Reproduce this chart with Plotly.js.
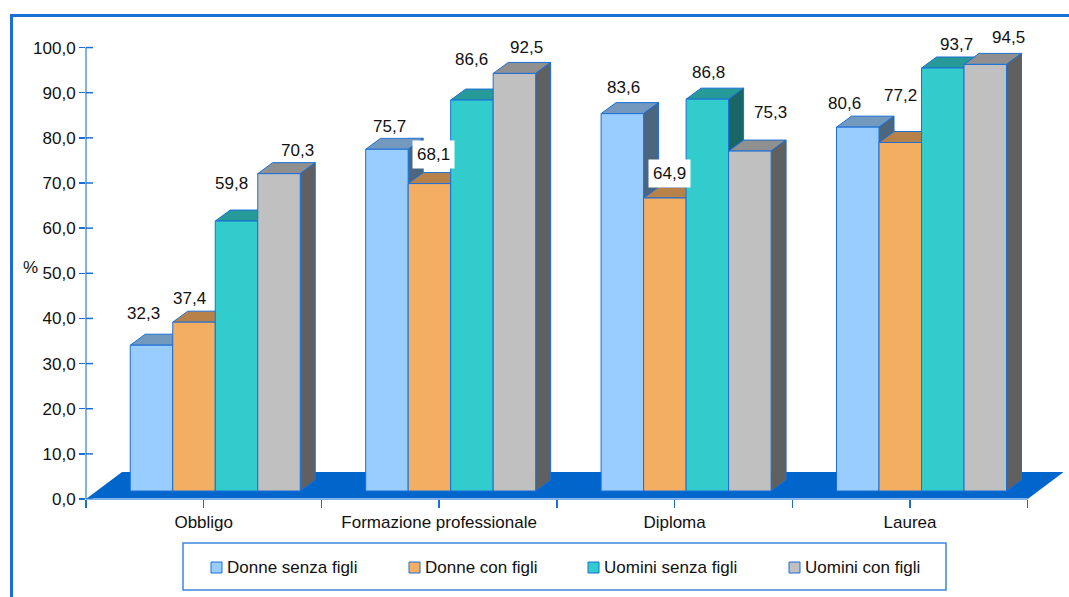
<!DOCTYPE html>
<html><head><meta charset="utf-8">
<script src="https://cdn.plot.ly/plotly-3.0.1.min.js"></script>
<style>html,body{margin:0;padding:0;background:#fff}#chart{width:1069px;height:597px}</style>
</head><body><div id="chart"></div>
<script>
// ---- data ----
const categories = ['Obbligo', 'Formazione professionale', 'Diploma', 'Laurea'];
const seriesNames = ['Donne senza figli', 'Donne con figli', 'Uomini senza figli', 'Uomini con figli'];
const donneSenzaFigli = [32.3, 75.7, 83.6, 80.6];
const donneConFigli = [37.4, 68.1, 64.9, 77.2];
const uominiSenzaFigli = [59.8, 86.6, 86.8, 93.7];
const uominiConFigli = [70.3, 92.5, 75.3, 94.5];
const yTickValues = [0, 10, 20, 30, 40, 50, 60, 70, 80, 90, 100];
const yAxisTitle = '%';

// ---- style ----
const frontColors = ['#99CCFF', '#F4AE62', '#33CCCC', '#C0C0C0'];
const topColors = ['#7399BF', '#B7824A', '#269999', '#909090'];
const sideColors = ['#4D6680', '#7A5731', '#1A6666', '#606060'];
const edge = '#1A6FD6';
const axisLine = '#7FB2EA';
const floorColor = '#0066CC';
const FONT = 'Liberation Sans, Arial, sans-serif';
// label nudges in px (x, up) per series / category
const labelNudgeX = [[-8, 3, 1, -13], [-5, 4, 5, 0], [-5, 0, 1, 14], [18, 12, 21, 23]];
const labelNudgeY = [[32, 23, 26, 24], [24, 29, 25, 47], [38, 41, 27, 24], [23, 26, 39, 27]];
// white box padding per series / category (labels overlapping bars get a wider box)
const labelPad = [[1, 1, 1, 1], [1, 4, 4, 1], [1, 1, 1, 1], [1, 1, 1, 1]];

const W = 1069, H = 597;
const M = {l: 86, r: 6, t: 25, b: 98};
const plotW = W - M.l - M.r, plotH = H - M.t - M.b;
const xRange = [-0.5, 3.65], yRange = [0, 105];
const pxX = (xRange[1] - xRange[0]) / plotW; // units per px
const pxY = (yRange[1] - yRange[0]) / plotH;

const depthX = 15 * pxX, depthY = 11 * pxY;      // bar 3D depth
const floorDX = 36 * pxX, floorDY = 27 * pxY;    // floor depth
const barBase = 8 * pxY;
const barW = 42.5 * pxX;
const firstOffset = -0.312;

const series = [donneSenzaFigli, donneConFigli, uominiSenzaFigli, uominiConFigli];
const xs = categories.map((c, i) => i);

const paperX = px => (px - M.l) / plotW;
const paperY = py => (H - M.b - py) / plotH;

const traces = series.map((vals, i) => ({
  type: 'bar', name: seriesNames[i], x: xs, y: vals,
  base: vals.map(() => barBase),
  offset: firstOffset + i * barW, width: barW,
  marker: {color: frontColors[i], line: {color: edge, width: 1}},
  hoverinfo: 'skip', showlegend: false
}));

const shapes = [];
// floor
shapes.push({type: 'path', xref: 'x', yref: 'y', layer: 'below',
  path: `M${xRange[0]},0 L${xRange[0] + floorDX},${floorDY} L${categories.length - 0.5 + floorDX},${floorDY} L${categories.length - 0.5},0 Z`,
  fillcolor: floorColor, line: {width: 0}});
// 3D faces
const annotations = [];
xs.forEach(c => {
  series.forEach((vals, i) => {
    const v = vals[c];
    const x0 = c + firstOffset + i * barW, x1 = x0 + barW;
    const yb = barBase, yt = barBase + v;
    shapes.push({type: 'path', xref: 'x', yref: 'y', layer: 'below',
      path: `M${x0},${yt} L${x0 + depthX},${yt + depthY} L${x1 + depthX},${yt + depthY} L${x1},${yt} Z`,
      fillcolor: topColors[i], line: {color: edge, width: 1}});
    shapes.push({type: 'path', xref: 'x', yref: 'y', layer: 'below',
      path: `M${x1},${yb} L${x1},${yt} L${x1 + depthX},${yt + depthY} L${x1 + depthX},${yb + depthY} Z`,
      fillcolor: sideColors[i], line: {color: edge, width: 1}});
    annotations.push({xref: 'x', yref: 'y', x: x0 + barW / 2, y: yt,
      text: v.toFixed(1).replace('.', ','), showarrow: false,
      xshift: labelNudgeX[i][c], yshift: labelNudgeY[i][c],
      xanchor: 'center', yanchor: 'middle', bgcolor: '#FFFFFF', borderpad: labelPad[i][c],
      font: {family: FONT, size: 17, color: '#111'}});
  });
});
// axis lines
shapes.push({type: 'line', xref: 'paper', yref: 'y', x0: 0, x1: 0, y0: 0, y1: yTickValues[yTickValues.length - 1],
  line: {color: axisLine, width: 2}, layer: 'above'});
shapes.push({type: 'line', xref: 'x', yref: 'paper', x0: -0.5, x1: categories.length - 0.5, y0: 0, y1: 0,
  line: {color: axisLine, width: 2}, layer: 'above'});
// inner half of y ticks
yTickValues.forEach(t => shapes.push({type: 'line', xref: 'paper', yref: 'y', x0: 0, x1: 7 / plotW, y0: t, y1: t,
  line: {color: edge, width: 1.5}, layer: 'above'}));
// outer frame
shapes.push({type: 'path', xref: 'paper', yref: 'paper', layer: 'above',
  path: `M${paperX(11.5)},${paperY(605)} L${paperX(11.5)},${paperY(15.5)} L${paperX(1080)},${paperY(15.5)}`,
  line: {color: edge, width: 3}});
// legend box
shapes.push({type: 'rect', xref: 'paper', yref: 'paper', layer: 'above',
  x0: paperX(183), x1: paperX(946), y0: paperY(590), y1: paperY(543),
  line: {color: '#3C86DC', width: 1.5}, fillcolor: 'rgba(0,0,0,0)'});
const legendX = [211, 409, 588, 789];
seriesNames.forEach((n, i) => {
  shapes.push({type: 'rect', xref: 'paper', yref: 'paper', layer: 'above',
    x0: paperX(legendX[i]), x1: paperX(legendX[i] + 11), y0: paperY(573), y1: paperY(562),
    fillcolor: frontColors[i], line: {color: edge, width: 1}});
  annotations.push({xref: 'paper', yref: 'paper', x: paperX(legendX[i] + 14), y: paperY(567.5),
    xanchor: 'left', yanchor: 'middle', showarrow: false, text: n,
    font: {family: FONT, size: 17, color: '#111'}});
});
// "%" label
annotations.push({xref: 'paper', yref: 'paper', x: paperX(30), y: paperY(267), text: yAxisTitle,
  showarrow: false, xanchor: 'center', yanchor: 'middle', font: {family: FONT, size: 17, color: '#111'}});

const xTickVals = [], xTickText = [];
for (let k = -0.5; k <= categories.length - 0.5 + 1e-9; k += 0.5) {
  xTickVals.push(k);
  xTickText.push(Number.isInteger(k) ? categories[k] : '');
}

const layout = {
  width: W, height: H, margin: M,
  paper_bgcolor: '#FFFFFF', plot_bgcolor: 'rgba(0,0,0,0)',
  font: {family: FONT, size: 17, color: '#111'},
  separators: ',.',
  barmode: 'overlay',
  showlegend: false,
  xaxis: {range: xRange, tickmode: 'array', tickvals: xTickVals, ticktext: xTickText,
    ticks: 'outside', ticklen: 8, tickwidth: 1.5, tickcolor: edge, showline: false,
    showgrid: false, zeroline: false, fixedrange: true, tickfont: {size: 17, color: '#111'}},
  yaxis: {range: yRange, tickmode: 'array', tickvals: yTickValues, tickformat: '.1f',
    ticks: 'outside', ticklen: 6, tickwidth: 1.5, tickcolor: edge, showline: false,
    showgrid: false, zeroline: false, fixedrange: true, tickfont: {size: 17, color: '#111'}},
  shapes: shapes, annotations: annotations
};
Plotly.newPlot('chart', traces, layout, {displayModeBar: false, staticPlot: true});
</script></body></html>
